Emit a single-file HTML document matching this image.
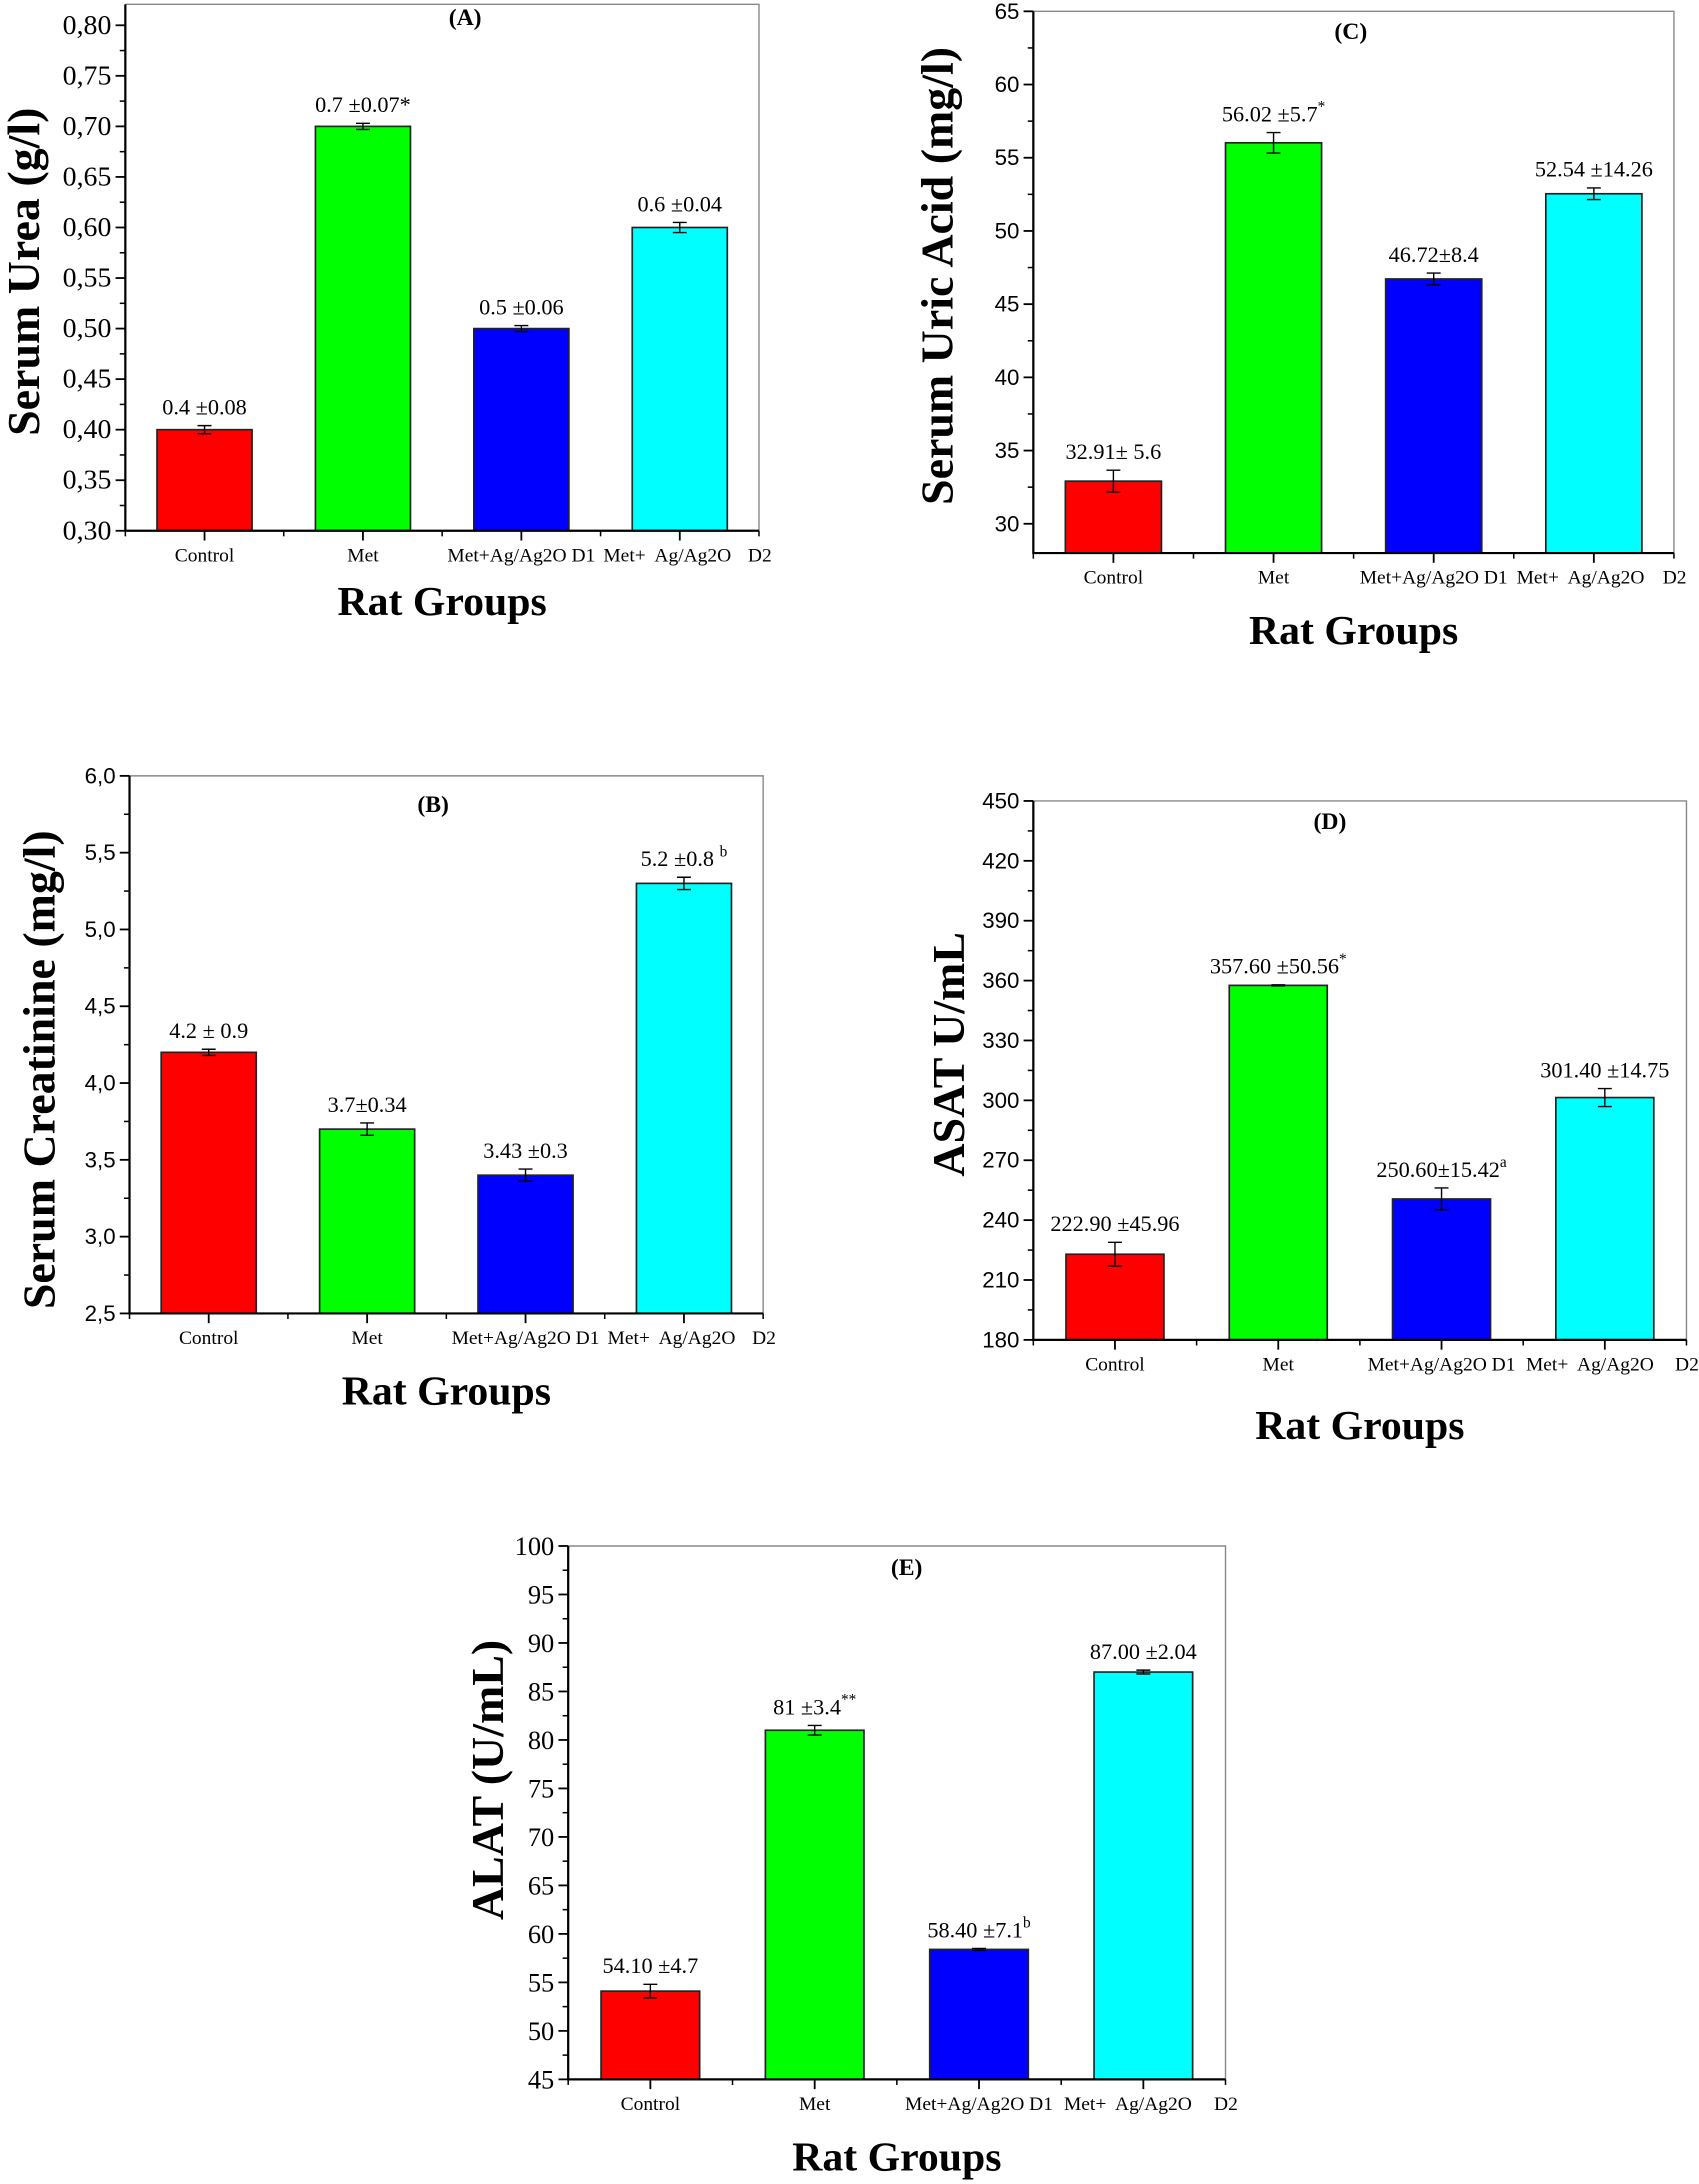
<!DOCTYPE html>
<html><head><meta charset="utf-8"><style>
html,body{margin:0;padding:0;background:#fff}
svg{display:block}
text{font-family:"Liberation Serif",serif;fill:#000;white-space:pre}
.sans{font-family:"Liberation Sans",sans-serif}
</style></head><body>
<svg id="fig" xmlns="http://www.w3.org/2000/svg" width="1699" height="2184" viewBox="0 0 1220 1568">
<rect x="0" y="0" width="1220" height="1568" fill="#fff"/>
</svg>
<script>
const categories = ["Control","Met","Met+Ag/Ag2O D1","Met+ Ag/Ag2O D2"];
const colors = ["#ff0000","#00ff00","#0000ff","#00ffff"];
const valuesA = [0.4,0.7,0.5,0.6];
const errA = [0.004,0.003,0.003,0.005];
const labelsA = ["0.4 ±0.08","0.7 ±0.07*","0.5 ±0.06","0.6 ±0.04"];
const supsA = ["","","",""];
const ticksA = ["0,30","0,35","0,40","0,45","0,50","0,55","0,60","0,65","0,70","0,75","0,80"];
const valuesB = [4.2,3.7,3.4,5.3];
const errB = [0.02,0.04,0.04,0.04];
const labelsB = ["4.2 ± 0.9","3.7±0.34","3.43 ±0.3","5.2 ±0.8 "];
const supsB = ["","","","b"];
const ticksB = ["2,5","3,0","3,5","4,0","4,5","5,0","5,5","6,0"];
const valuesC = [32.91,56.02,46.72,52.54];
const errC = [0.75,0.7,0.4,0.4];
const labelsC = ["32.91± 5.6","56.02 ±5.7","46.72±8.4","52.54 ±14.26"];
const supsC = ["","*","",""];
const ticksC = ["30","35","40","45","50","55","60","65"];
const valuesD = [222.9,357.6,250.6,301.4];
const errD = [6,0.3,5.5,4.5];
const labelsD = ["222.90 ±45.96","357.60 ±50.56","250.60±15.42","301.40 ±14.75"];
const supsD = ["","*","a",""];
const ticksD = ["180","210","240","270","300","330","360","390","420","450"];
const valuesE = [54.1,81,58.4,87];
const errE = [0.7,0.5,0.1,0.2];
const labelsE = ["54.10 ±4.7","81 ±3.4","58.40 ±7.1","87.00 ±2.04"];
const supsE = ["","**","b",""];
const ticksE = ["45","50","55","60","65","70","75","80","85","90","95","100"];

const NS="http://www.w3.org/2000/svg";
const svg=document.getElementById('fig');
function mk(tag,attrs,parent){const e=document.createElementNS(NS,tag);for(const k in attrs)e.setAttribute(k,attrs[k]);(parent||svg).appendChild(e);return e;}

const panels=[
 {id:"a",letter:"(A)",lx:334,ly:18,x0:90,x1:545,yt:3,yb:381,vmin:0.30,vmax:0.8207,tmin:0.30,tstep:0.05,ticks:ticksA,vals:valuesA,errs:errA,labels:labelsA,sups:supsA,tickSans:false,tfs:20,ylab:"Serum Urea (g/l)",ylx:17,yly:195,rgOff:51},
 {id:"b",letter:"(B)",lx:311,ly:583,x0:93,x1:548,yt:557,yb:943,vmin:2.5,vmax:6.0,tmin:2.5,tstep:0.5,ticks:ticksB,vals:valuesB,errs:errB,labels:labelsB,sups:supsB,tickSans:true,tfs:16,ylab:"Serum Creatinine (mg/l)",ylx:28,yly:768,rgOff:56},
 {id:"c",letter:"(C)",lx:970,ly:28,x0:742,x1:1202,yt:8,yb:397,vmin:28.0,vmax:65,tmin:30,tstep:5,ticks:ticksC,vals:valuesC,errs:errC,labels:labelsC,sups:supsC,tickSans:true,tfs:16,ylab:"Serum Uric Acid (mg/l)",ylx:673,yly:198,rgOff:56},
 {id:"d",letter:"(D)",lx:955,ly:595,x0:742,x1:1211,yt:575,yb:962,vmin:180,vmax:450,tmin:180,tstep:30,ticks:ticksD,vals:valuesD,errs:errD,labels:labelsD,sups:supsD,tickSans:true,tfs:16,ylab:"ASAT U/mL",ylx:681,yly:757,rgOff:62},
 {id:"e",letter:"(E)",lx:651,ly:1131,x0:408,x1:880,yt:1110,yb:1493,vmin:45,vmax:100,tmin:45,tstep:5,ticks:ticksE,vals:valuesE,errs:errE,labels:labelsE,sups:supsE,tickSans:false,tfs:19,ylab:"ALAT (U/mL)",ylx:350,yly:1278,rgOff:56}
];

panels.forEach(p=>{
 const g=mk('g',{});
 
 
 const yScale=v=>p.yb-(v-p.vmin)/(p.vmax-p.vmin)*(p.yb-p.yt);
 const n=categories.length, s=(p.x1-p.x0)/n;
 const xc=i=>p.x0+(i+0.5)*s;
 const fr=mk('path',{d:`M${p.x0},${p.yt}H${p.x1}V${p.yb}`,fill:'none',stroke:'#888',"stroke-width":1},g);
 
 
 p.vals.forEach((v,i)=>{
  const w=s*0.6, y=yScale(v);
  const r=mk('rect',{x:xc(i)-w/2,y:y,width:w,height:p.yb-y,fill:colors[i],stroke:'#222',"stroke-width":1.2},g);
  
  
  const e=p.errs[i], yt=yScale(v+e), yb2=yScale(v-e);
  const eb=mk('path',{d:`M${xc(i)},${yt}V${yb2}M${xc(i)-5},${yt}H${xc(i)+5}M${xc(i)-5},${yb2}H${xc(i)+5}`,stroke:'#000',"stroke-width":1,fill:'none'},g);
  
  
  const t=mk('text',{x:xc(i),y:Math.min(yt,y)-8,"text-anchor":"middle","font-size":16},g);
  
  
  t.appendChild(document.createTextNode(p.labels[i]));
  if(p.sups[i]){const sp=mk('tspan',{dy:-7,"font-size":11},t);sp.textContent=p.sups[i];}
 });
 const ax=mk('path',{d:`M${p.x0},${p.yt}V${p.yb}H${p.x1}`,fill:'none',stroke:'#000',"stroke-width":1.6},g);
 
 
 p.ticks.forEach((lab,k)=>{
  const v=p.tmin+k*p.tstep, y=yScale(v);
  mk('line',{x1:p.x0-7,x2:p.x0,y1:y,y2:y,stroke:'#000',"stroke-width":1.3},g);
  const vm=v+p.tstep/2;
  if(vm<=p.vmax){const ym=yScale(vm);mk('line',{x1:p.x0-4,x2:p.x0,y1:ym,y2:ym,stroke:'#000',"stroke-width":1.1},g);}
  const t=mk('text',{x:p.x0-10,y:y,"text-anchor":"end","dominant-baseline":"central","font-size":p.tfs,class:p.tickSans?'sans':''},g);
  
  
  t.textContent=lab;
 });
 for(let i=0;i<n;i++){mk('line',{x1:xc(i),x2:xc(i),y1:p.yb,y2:p.yb+7,stroke:'#000',"stroke-width":1.3},g);}
 for(let i=0;i<=n;i++){const x=p.x0+i*s;mk('line',{x1:x,x2:x,y1:p.yb,y2:p.yb+4,stroke:'#000',"stroke-width":1.1},g);}
 const ly=p.yb+18;
 const xl=[[xc(0),'middle',"Control"],[xc(1),'middle',"Met"],[xc(2),'middle',"Met+Ag/Ag2O D1"],[xc(3)-0.5*s+2,'start',"Met+  Ag/Ag2O"],[xc(3)+0.43*s,'start',"D2"]];
 xl.forEach(a=>{const t=mk('text',{x:a[0],y:ly,"text-anchor":a[1],"dominant-baseline":"central","font-size":14},g);
  
  
  t.textContent=a[2];});
 const rg=mk('text',{x:(p.x0+p.x1)/2,y:p.yb+p.rgOff,"text-anchor":"middle","dominant-baseline":"central","font-size":30,"font-weight":"bold"},g);
 
 
 rg.textContent="Rat Groups";
 const yl=mk('text',{x:p.ylx,y:p.yly,"text-anchor":"middle","dominant-baseline":"central","font-size":33,"font-weight":"bold",transform:`rotate(-90 ${p.ylx} ${p.yly})`},g);
 
 
 yl.textContent=p.ylab;
 const pl=mk('text',{x:p.lx,y:p.ly,"text-anchor":"middle","font-size":17,"font-weight":"bold"},g);
 
 
 pl.textContent=p.letter;
});
</script>
</body></html>
